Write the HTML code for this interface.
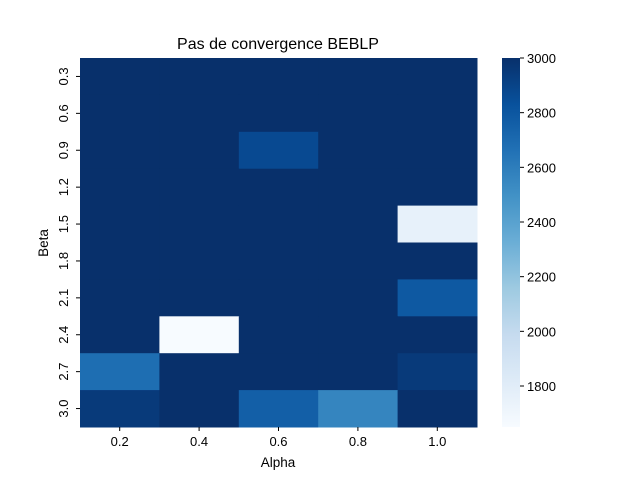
<!DOCTYPE html>
<html><head><meta charset="utf-8"><style>
body{margin:0;background:#fff}
svg{display:block;font-family:"Liberation Sans","DejaVu Sans",sans-serif}
</style></head><body>
<svg id="chart" width="640" height="480">
<text x="278" y="49" text-anchor="middle" font-size="16">Pas de convergence BEBLP</text>
<text x="278" y="467" text-anchor="middle" font-size="13.5">Alpha</text>
<text transform="translate(48,243) rotate(-90)" text-anchor="middle" font-size="13.5">Beta</text>
<g id="cells"></g><g id="cbar"></g>
</svg>
<script>
const alphas=["0.2","0.4","0.6","0.8","1.0"];
const betas=["0.3","0.6","0.9","1.2","1.5","1.8","2.1","2.4","2.7","3.0"];
const values=[
[3000,3000,3000,3000,3000],
[3000,3000,3000,3000,3000],
[3000,3000,2870,3000,3000],
[3000,3000,3000,3000,3000],
[3000,3000,3000,3000,1760],
[3000,3000,3000,3000,3000],
[3000,3000,3000,3000,2790],
[3000,1650,3000,3000,3000],
[2680,3000,3000,3000,2950],
[2950,3000,2760,2560,3000]];
const cbTicks=[1800,2000,2200,2400,2600,2800,3000];
const vmin=1650,vmax=3000;
const L=80,R=477,T=58,B=427;
const stops=["#f7fbff","#deebf7","#c6dbef","#9ecae1","#6baed6","#4292c6","#2171b5","#08519c","#08306b"];
function hex(h){return [1,3,5].map(i=>parseInt(h.substr(i,2),16));}
function color(v){let t=Math.max(0,Math.min(1,(v-vmin)/(vmax-vmin)))*(stops.length-1);let i=Math.min(Math.floor(t),stops.length-2),f=t-i;let a=hex(stops[i]),b=hex(stops[i+1]);return "rgb("+a.map((x,k)=>Math.round(x+(b[k]-x)*f)).join(",")+")";}
const cw=(R-L)/alphas.length,ch=(B-T)/betas.length;
const xs=i=>L+i*cw, ys=j=>T+j*ch;
const NS="http://www.w3.org/2000/svg";
const g=document.getElementById('cells');
function mk(tag,attrs,parent){const e=document.createElementNS(NS,tag);for(const k in attrs)e.setAttribute(k,attrs[k]);parent.appendChild(e);return e;}
values.forEach((row,j)=>row.forEach((v,i)=>{
 const r=mk('rect',{x:xs(i),y:ys(j),width:cw+0.5,height:ch+0.5,fill:color(v)},g);
 
 
}));
alphas.forEach((a,i)=>{
 const x=xs(i)+cw/2;
 mk('line',{x1:x,x2:x,y1:B,y2:B+4,stroke:"#000"},g);
 const t=mk('text',{x:x,y:B+19,"text-anchor":"middle","font-size":"13"},g);t.textContent=a;
 
 
});
betas.forEach((b,j)=>{
 const y=ys(j)+ch/2;
 mk('line',{x1:L-4,x2:L,y1:y,y2:y,stroke:"#000"},g);
 const t=mk('text',{transform:"translate(68,"+y+") rotate(-90)","text-anchor":"middle","font-size":"13"},g);t.textContent=b;
 
 
});
const cb=document.getElementById('cbar');
const CX=502,CW=18;
const cy=v=>B-(v-vmin)/(vmax-vmin)*(B-T);
const defs=mk('defs',{},cb);
const grad=mk('linearGradient',{id:"gr",x1:0,y1:1,x2:0,y2:0},defs);
stops.forEach((s,k)=>mk('stop',{offset:k/(stops.length-1),"stop-color":s},grad));
const cr=mk('rect',{x:CX,y:T,width:CW,height:B-T,fill:"url(#gr)"},cb);


cbTicks.forEach(v=>{
 const y=cy(v);
 mk('line',{x1:CX+CW,x2:CX+CW+4,y1:y,y2:y,stroke:"#000"},cb);
 const t=mk('text',{x:CX+CW+7,y:y+5,"font-size":"13"},cb);t.textContent=v;
 
 
});
</script>
</body></html>
